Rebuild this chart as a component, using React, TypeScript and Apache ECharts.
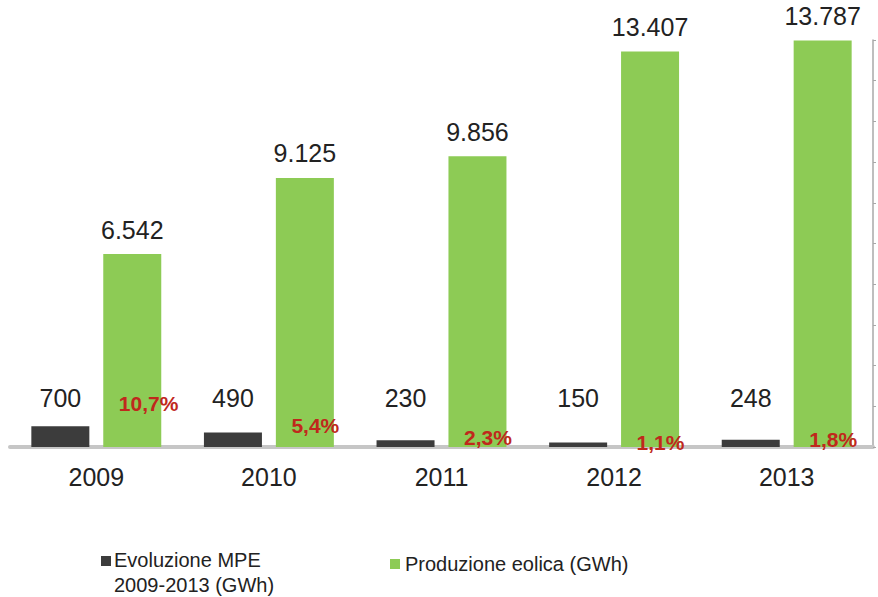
import React, { useEffect, useRef } from "react";
import * as echarts from "echarts";

const years = ["2009", "2010", "2011", "2012", "2013"];
const mpeValues = [700, 490, 230, 150, 248];
const eolicaValues = [6542, 9125, 9856, 13407, 13787];
const sharePercent = [10.7, 5.4, 2.3, 1.1, 1.8];
const mpeName = "Evoluzione MPE\n2009-2013 (GWh)";
const eolicaName = "Produzione eolica (GWh)";
const shareName = "Quota MPE";

const FONT = "'Liberation Sans', Arial, Helvetica, sans-serif";
const DARK = "#3c3c3c";
const GREEN = "#8dcb55";

const fmtThousands = (v: number) =>
  String(v).replace(/\B(?=(\d{3})+(?!\d))/g, ".");
const fmtPct = (v: number) => v.toFixed(1).replace(".", ",") + "%";

export default function App() {
  const ref = useRef<HTMLDivElement>(null);
  useEffect(() => {
    document.body.style.margin = "0";
    if (!ref.current) return;
    const chart = echarts.init(ref.current, null, { renderer: "svg" });
    chart.setOption({
      animation: false,
      backgroundColor: "#ffffff",
      textStyle: { fontFamily: FONT },
      grid: { left: 10, right: 5, top: 40, bottom: 150, containLabel: false },
      legend: [
        {
          data: [eolicaName],
          left: 385,
          top: 547,
          itemWidth: 10,
          itemHeight: 10,
          itemGap: 0,
          icon: "rect",
          textStyle: { fontFamily: FONT, fontSize: 20, color: "#222", lineHeight: 24 },
        },
      ],
      graphic: [
        {
          type: "rect",
          left: 101,
          top: 556,
          shape: { width: 10, height: 10 },
          style: { fill: DARK },
        },
        {
          type: "text",
          left: 114,
          top: 547,
          style: {
            text: mpeName,
            fontFamily: FONT,
            fontSize: 20,
            lineHeight: 25,
            fill: "#222",
          },
        },
      ],
      xAxis: {
        type: "category",
        data: years,
        axisLine: { show: true, lineStyle: { color: "#c6c6c6", width: 4 } },
        axisTick: { show: false },
        axisLabel: { fontFamily: FONT, fontSize: 25, color: "#222", margin: 17 },
      },
      yAxis: [
        {
          type: "value",
          min: 0,
          max: 13800,
          show: false,
          splitLine: { show: false },
        },
        {
          type: "value",
          position: "right",
          min: 0,
          max: 100,
          interval: 10,
          axisLine: { show: true, lineStyle: { color: "#a8a8a8", width: 1.5 } },
          axisTick: { show: true, inside: false, length: 3, lineStyle: { color: "#a8a8a8" } },
          axisLabel: { show: false },
          splitLine: { show: false },
        },
      ],
      series: [
        {
          name: mpeName,
          type: "bar",
          data: mpeValues,
          barWidth: 58,
          barGap: "24%",
          itemStyle: { color: DARK },
          label: {
            show: true,
            position: "insideBottom",
            distance: 37,
            fontFamily: FONT,
            fontSize: 25,
            color: "#222",
            formatter: (p: any) => fmtThousands(p.value),
          },
        },
        {
          name: eolicaName,
          type: "bar",
          data: eolicaValues,
          barWidth: 58,
          itemStyle: { color: GREEN },
          label: {
            show: true,
            position: "top",
            distance: 12,
            fontFamily: FONT,
            fontSize: 25,
            color: "#222",
            formatter: (p: any) => fmtThousands(p.value),
          },
        },
        {
          name: shareName,
          type: "line",
          yAxisIndex: 1,
          data: sharePercent,
          symbol: "circle",
          symbolSize: 1,
          showSymbol: true,
          itemStyle: { color: "rgba(0,0,0,0)" },
          lineStyle: { width: 0, color: "rgba(0,0,0,0)" },
          z: 10,
          label: {
            show: true,
            position: "right",
            distance: 22,
            fontFamily: FONT,
            fontWeight: "bold",
            fontSize: 21,
            color: "#c0281c",
            formatter: (p: any) => fmtPct(p.value),
          },
        },
      ],
    });
    return () => chart.dispose();
  }, []);
  return <div ref={ref} style={{ width: 878, height: 597 }} />;
}
